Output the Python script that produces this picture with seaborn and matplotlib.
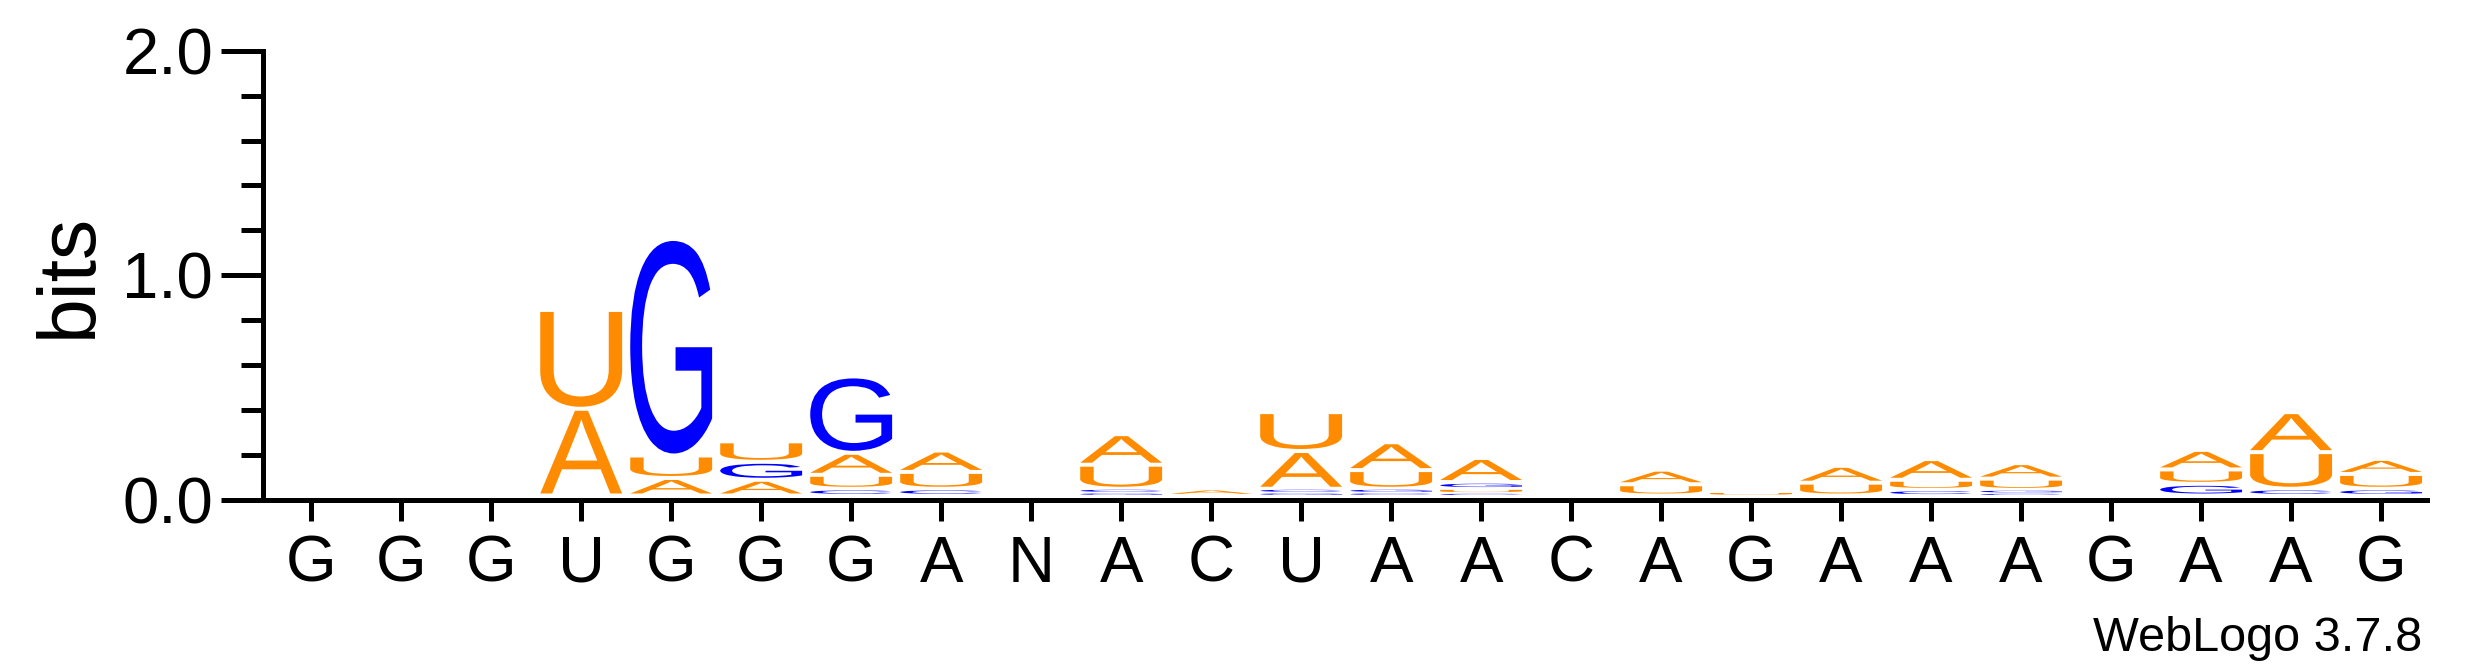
import matplotlib
matplotlib.use("Agg")
import matplotlib.pyplot as plt
import seaborn as sns
import pandas as pd
from matplotlib.textpath import TextPath
from matplotlib.patches import PathPatch
from matplotlib.transforms import Affine2D
from matplotlib.font_manager import FontProperties
from matplotlib.ticker import MultipleLocator

# consensus shown under the axis
SEQUENCE = list("GGGUGGGANACUAACAGAAAGAAG")

# letter heights in bits for each position
A_BITS = [0, 0, 0, 0.386, 0.078, 0.070, 0.098, 0.095, 0, 0.136, 0.030, 0.168,
          0.124, 0.107, 0, 0.065, 0, 0.075, 0.092, 0.069, 0, 0.087, 0.178, 0.067]
C_BITS = [0, 0, 0, 0, 0, 0, 0.030, 0.030, 0, 0.018, 0, 0.018,
          0.012, 0.010, 0, 0, 0, 0, 0.025, 0.010, 0, 0, 0.030, 0]
G_BITS = [0, 0, 0, 0, 0.964, 0.080, 0.340, 0, 0, 0.012, 0, 0.012,
          0.018, 0.030, 0, 0, 0, 0, 0, 0.015, 0, 0.052, 0, 0.030]
U_BITS = [0, 0, 0, 0.440, 0.100, 0.091, 0.062, 0.075, 0, 0.107, 0, 0.173,
          0.083, 0.020, 0, 0.050, 0.015, 0.057, 0.045, 0.050, 0, 0.064, 0.163, 0.066]

# base pairing colour scheme
COLORS = {'A': '#FF8C00', 'U': '#FF8C00', 'G': '#0000FF', 'C': '#0000FF'}

FONT = 'Liberation Sans'
LOGO_FONT = FontProperties(family=FONT)

sns.set_style("ticks")
plt.rcParams['font.family'] = [FONT, 'DejaVu Sans']
plt.rcParams['text.color'] = 'black'
plt.rcParams['axes.labelcolor'] = 'black'
plt.rcParams['xtick.color'] = 'black'
plt.rcParams['ytick.color'] = 'black'

df = pd.DataFrame({'pos': range(1, len(SEQUENCE) + 1),
                   'A': A_BITS, 'C': C_BITS, 'G': G_BITS, 'U': U_BITS})


def draw_letter(ax, ch, x, y, w, h, color):
    tp = TextPath((0, 0), ch, size=1, prop=LOGO_FONT)
    bb = tp.get_extents()
    tr = (Affine2D().translate(-bb.x0, -bb.y0)
          .scale(w / bb.width, h / bb.height)
          .translate(x - w / 2, y))
    ax.add_patch(PathPatch(tr.transform_path(tp), fc=color, ec='none', lw=0))


fig = plt.figure(figsize=(24.75, 6.67), dpi=100)
ax = fig.add_axes([0.1061, 0.2504, 0.9806 - 0.1061, 0.9240 - 0.2504])

base = 0.02       # small lift above the axis line
gap = 0.0178      # space between stacked glyphs
for _, row in df.iterrows():
    heights = sorted([(row[b], b) for b in 'ACGU' if row[b] > 0])
    y = base
    for h, b in heights:
        pad = min(gap, h * 0.5)
        draw_letter(ax, b, row['pos'], y + pad / 2, 0.91, h - pad, COLORS[b])
        y += h

ax.set_xlim(0.46, 24.51)
ax.set_ylim(0, 2)
ax.set_xticks(df['pos'])
ax.set_xticklabels(SEQUENCE)
ax.set_yticks([0, 1, 2])
ax.set_yticklabels(['0.0', '1.0', '2.0'])
ax.yaxis.set_minor_locator(MultipleLocator(0.2))

sns.despine(ax=ax)
for s in ['left', 'bottom']:
    ax.spines[s].set_linewidth(3.6)
    ax.spines[s].set_color('black')
ax.tick_params(axis='y', which='major', length=30.6, width=3.6, labelsize=47, pad=5,
               color='black', labelcolor='black')
ax.tick_params(axis='y', which='minor', length=15.7, width=3.6, color='black')
ax.tick_params(axis='x', length=15, width=3.6, labelsize=47, pad=10,
               color='black', labelcolor='black')

fig.text(70 / 2475, 1 - 275 / 667, 'bits', rotation=90, ha='center', va='center',
         fontsize=58, color='black')
fig.text(2422 / 2475, 1 - 651 / 667, 'WebLogo 3.7.8', ha='right', va='baseline',
         fontsize=35, color='black')

fig.savefig('out.png', dpi=100)
plt.close()
